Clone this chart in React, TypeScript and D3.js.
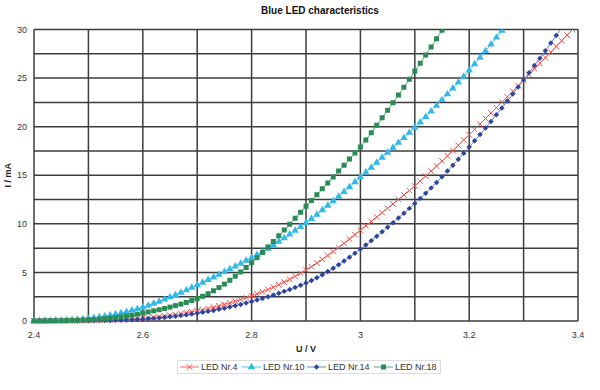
import React, { useEffect, useRef } from 'react';
import * as d3 from 'd3';

// measured points, one every 10 mV starting at 2.40 V
const U_START = 2.4;
const U_STEP = 0.01;

const led4 = [
  0.0, 0.0, 0.0, 0.01, 0.01, 0.01, 0.02, 0.02, 0.03, 0.04,
  0.05, 0.06, 0.08, 0.1, 0.12, 0.14, 0.16, 0.19, 0.22, 0.26,
  0.3, 0.34, 0.39, 0.45, 0.52, 0.59, 0.67, 0.76, 0.85, 0.95,
  1.05, 1.16, 1.28, 1.41, 1.55, 1.7, 1.86, 2.03, 2.21, 2.4,
  2.6, 2.79, 3.0, 3.23, 3.47, 3.73, 4.0, 4.29, 4.59, 4.91,
  5.24, 5.59, 5.96, 6.34, 6.74, 7.15, 7.57, 8.0, 8.44, 8.89,
  9.35, 9.8, 10.25, 10.7, 11.15, 11.6, 12.05, 12.51, 12.97, 13.43,
  13.9, 14.4, 14.91, 15.43, 15.95, 16.47, 17.0, 17.53, 18.07, 18.62,
  19.17, 19.72, 20.28, 20.84, 21.4, 21.96, 22.52, 23.08, 23.65, 24.22,
  24.8, 25.37, 25.95, 26.52, 27.1, 27.68, 28.26, 28.84, 29.42, 30.0,
];

const led10 = [
  0.02, 0.03, 0.04, 0.05, 0.06, 0.08, 0.1, 0.13, 0.16, 0.2,
  0.25, 0.32, 0.4, 0.49, 0.59, 0.7, 0.82, 0.95, 1.09, 1.24,
  1.4, 1.59, 1.79, 2.0, 2.22, 2.45, 2.68, 2.92, 3.17, 3.43,
  3.7, 3.96, 4.23, 4.5, 4.78, 5.06, 5.34, 5.63, 5.92, 6.21,
  6.5, 6.81, 7.13, 7.46, 7.81, 8.17, 8.54, 8.92, 9.31, 9.7,
  10.1, 10.52, 10.96, 11.41, 11.87, 12.34, 12.82, 13.3, 13.79, 14.29,
  14.8, 15.3, 15.8, 16.31, 16.82, 17.33, 17.84, 18.35, 18.86, 19.38,
  19.9, 20.45, 21.01, 21.58, 22.16, 22.75, 23.34, 23.94, 24.55, 25.17,
  25.8, 26.45, 27.11, 27.79, 28.48, 29.18, 29.89, 30.6,
];

const led14 = [
  0.0, 0.0, 0.0, 0.0, 0.0, 0.01, 0.01, 0.01, 0.01, 0.02,
  0.02, 0.03, 0.04, 0.05, 0.06, 0.07, 0.09, 0.11, 0.13, 0.16,
  0.19, 0.23, 0.27, 0.32, 0.37, 0.43, 0.49, 0.56, 0.63, 0.71,
  0.8, 0.89, 0.99, 1.09, 1.2, 1.31, 1.43, 1.56, 1.7, 1.85,
  2.0, 2.16, 2.32, 2.49, 2.67, 2.86, 3.05, 3.25, 3.46, 3.68,
  3.9, 4.16, 4.45, 4.76, 5.09, 5.44, 5.8, 6.18, 6.57, 6.98,
  7.4, 7.83, 8.27, 8.72, 9.18, 9.65, 10.12, 10.6, 11.09, 11.59,
  12.1, 12.62, 13.15, 13.7, 14.26, 14.84, 15.43, 16.03, 16.64, 17.27,
  17.9, 18.54, 19.19, 19.86, 20.54, 21.23, 21.93, 22.64, 23.35, 24.07,
  24.8, 25.54, 26.29, 27.05, 27.82, 28.6, 29.39, 30.19,
];

const led18 = [
  0.01, 0.01, 0.01, 0.02, 0.02, 0.03, 0.04, 0.05, 0.07, 0.09,
  0.12, 0.15, 0.19, 0.24, 0.29, 0.35, 0.42, 0.5, 0.6, 0.71,
  0.83, 0.93, 1.04, 1.16, 1.29, 1.43, 1.58, 1.74, 1.91, 2.1,
  2.3, 2.54, 2.81, 3.11, 3.44, 3.8, 4.19, 4.61, 5.05, 5.51,
  6.0, 6.52, 7.06, 7.62, 8.19, 8.77, 9.36, 9.96, 10.57, 11.18,
  11.8, 12.4, 13.0, 13.6, 14.21, 14.82, 15.43, 16.04, 16.66, 17.28,
  17.9, 18.63, 19.38, 20.14, 20.91, 21.69, 22.47, 23.26, 24.06, 24.87,
  25.7, 26.53, 27.37, 28.21, 29.06, 29.91, 30.77,
];

const seriesNames = ['LED Nr.4', 'LED Nr.10', 'LED Nr.14', 'LED Nr.18'];
const seriesValues = [led4, led10, led14, led18];

const xTickValues = [2.4, 2.6, 2.8, 3.0, 3.2, 3.4];
const yTickValues = [0, 5, 10, 15, 20, 25, 30];

// diamond = square turned by 45 degrees
const styles = [
  { color: '#f0504a', line: '#f26a64', symbol: d3.symbolTimes, size: 22, stroke: true, rot: 0 },
  { color: '#33b8ea', line: '#55c4ef', symbol: d3.symbolTriangle, size: 24, stroke: false, rot: 0 },
  { color: '#2c44a0', line: '#6d80c8', symbol: d3.symbolSquare, size: 15, stroke: false, rot: 45 },
  { color: '#2a8c55', line: '#5aa97c', symbol: d3.symbolSquare, size: 25, stroke: false, rot: 0 },
];

const font = '"Liberation Sans", Arial, sans-serif';

const Chart = () => {
  const ref = useRef(null);

  useEffect(() => {
    const width = 600;
    const height = 390;
    const margin = { left: 34, right: 22, top: 29.5, bottom: 69 };
    const innerWidth = width - margin.left - margin.right;
    const innerHeight = height - margin.top - margin.bottom;

    const svgRef = d3.select(ref.current);
    svgRef.selectAll('*').remove();

    const svg = svgRef.attr('width', width).attr('height', height);

    const xScale = d3.scaleLinear().domain([2.4, 3.4]).range([0, innerWidth]);
    const yScale = d3.scaleLinear().domain([0, 30]).range([innerHeight, 0]);

    // title
    svg.append('text')
      .attr('x', 320)
      .attr('y', 14)
      .attr('text-anchor', 'middle')
      .attr('font-family', font)
      .attr('font-size', 10)
      .attr('font-weight', 'bold')
      .attr('fill', '#111')
      .text('Blue LED characteristics');

    const g = svg.append('g')
      .attr('transform', `translate(${margin.left}, ${margin.top})`);

    g.append('clipPath').attr('id', 'plot-clip')
      .append('rect')
      .attr('x', -4).attr('y', 0)
      .attr('width', innerWidth + 8).attr('height', innerHeight + 4);

    // grid every 0.1 V and 2.5 mA
    const xGrid = d3.range(0, 11).map((i) => 2.4 + i * 0.1);
    const yGrid = d3.range(0, 13).map((i) => i * 2.5);

    g.append('g')
      .selectAll('line')
      .data(yGrid)
      .join('line')
      .attr('x1', 0)
      .attr('x2', innerWidth)
      .attr('y1', (d) => yScale(d))
      .attr('y2', (d) => yScale(d))
      .attr('stroke', '#3c3c3c')
      .attr('stroke-width', 1.5);

    g.append('g')
      .selectAll('line')
      .data(xGrid)
      .join('line')
      .attr('x1', (d) => xScale(d))
      .attr('x2', (d) => xScale(d))
      .attr('y1', 0)
      .attr('y2', innerHeight)
      .attr('stroke', '#3c3c3c')
      .attr('stroke-width', 1.5);

    // tick labels
    g.append('g')
      .selectAll('text')
      .data(yTickValues)
      .join('text')
      .attr('x', -7)
      .attr('y', (d) => yScale(d))
      .attr('dy', '0.35em')
      .attr('text-anchor', 'end')
      .attr('font-family', font)
      .attr('font-size', 9)
      .attr('fill', '#333')
      .text((d) => d);

    g.append('g')
      .selectAll('text')
      .data(xTickValues)
      .join('text')
      .attr('x', (d) => xScale(d))
      .attr('y', innerHeight + 17)
      .attr('text-anchor', 'middle')
      .attr('font-family', font)
      .attr('font-size', 9)
      .attr('fill', '#333')
      .text((d) => d3.format('~g')(d));

    // axis titles
    g.append('text')
      .attr('x', innerWidth / 2)
      .attr('y', innerHeight + 31)
      .attr('text-anchor', 'middle')
      .attr('font-family', font)
      .attr('font-size', 9)
      .attr('font-weight', 'bold')
      .attr('fill', '#222')
      .text('U / V');

    g.append('text')
      .attr('transform', `translate(${-23}, ${yScale(15)}) rotate(-90)`)
      .attr('text-anchor', 'middle')
      .attr('font-family', font)
      .attr('font-size', 9)
      .attr('font-weight', 'bold')
      .attr('fill', '#222')
      .text('I / mA');

    // the curves
    const line = d3.line()
      .x((d) => xScale(d[0]))
      .y((d) => yScale(d[1]));

    const plot = g.append('g').attr('clip-path', 'url(#plot-clip)');

    seriesValues.forEach((values, i) => {
      const st = styles[i];
      const pts = values.map((v, k) => [U_START + k * U_STEP, v]);

      plot.append('path')
        .attr('fill', 'none')
        .attr('stroke', st.line)
        .attr('stroke-width', 1)
        .attr('d', line(pts));

      const markers = plot.append('g')
        .selectAll('path')
        .data(pts.filter((p) => p[1] <= 30))
        .join('path')
        .attr('transform', (d) => `translate(${xScale(d[0])}, ${yScale(d[1])}) rotate(${st.rot})`)
        .attr('d', d3.symbol(st.symbol, st.size)());

      if (st.stroke) {
        markers.attr('fill', 'none').attr('stroke', st.color).attr('stroke-width', 1);
      } else {
        markers.attr('fill', st.color);
      }
    });

    // legend
    const legend = svg.append('g');
    legend.append('rect')
      .attr('x', 177.5)
      .attr('y', 360.5)
      .attr('width', 263)
      .attr('height', 13)
      .attr('fill', '#fff')
      .attr('stroke', '#ddd');

    const itemX = [180, 242, 307, 374];
    seriesNames.forEach((name, i) => {
      const st = styles[i];
      const item = legend.append('g').attr('transform', `translate(${itemX[i]}, 367)`);
      item.append('line')
        .attr('x1', 0).attr('x2', 19)
        .attr('stroke', st.line)
        .attr('stroke-width', 1);
      const m = item.append('path')
        .attr('transform', `translate(9.5, 0) rotate(${st.rot})`)
        .attr('d', d3.symbol(st.symbol, st.size)());
      if (st.stroke) {
        m.attr('fill', 'none').attr('stroke', st.color);
      } else {
        m.attr('fill', st.color);
      }
      item.append('text')
        .attr('x', 21)
        .attr('dy', '0.35em')
        .attr('font-family', font)
        .attr('font-size', 9)
        .attr('fill', '#333')
        .text(name);
    });
  }, []);

  return (
    <svg ref={ref} style={{ position: 'absolute', left: 0, top: 0 }}></svg>
  );
};

export default function App() {
  return (
    <div>
      <Chart />
    </div>
  );
}
